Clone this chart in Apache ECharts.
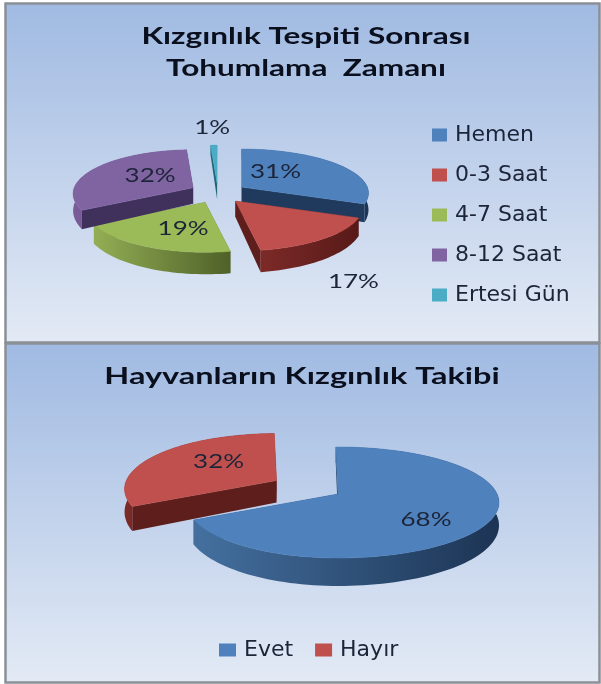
<!DOCTYPE html>
<html>
<head>
<meta charset="utf-8">
<style>html,body{margin:0;padding:0;background:#fff}#c{width:601px;height:684px}</style>
<script src="https://cdn.jsdelivr.net/npm/echarts@6/dist/echarts.min.js"></script>
</head>
<body>
<div id="c"></div>
<script>
// ---- data ----
var zamanTitle = 'Kızgınlık Tespiti Sonrası\nTohumlama  Zamanı';
var zamanCategories = ['Hemen', '0-3 Saat', '4-7 Saat', '8-12 Saat', 'Ertesi Gün'];
var zamanValues = [31, 17, 19, 32, 1];
var takipTitle = 'Hayvanların Kızgınlık Takibi';
var takipCategories = ['Evet', 'Hayır'];
var takipValues = [68, 32];

// ---- style ----
var TEXT = '#1c2438';
var palette = {
  blue:   {top:'#4f81bd', wall:'#1f3a5c', rimA:'#44709f', rimB:'#1c3454'},
  red:    {top:'#c0504d', wall:'#5e1f1c', rimA:'#7c2a27', rimB:'#571a18'},
  green:  {top:'#9bbb59', wall:'#55692c', rimA:'#93ae55', rimB:'#4f6128'},
  purple: {top:'#8064a2', wall:'#40305c', rimA:'#7a5c9a', rimB:'#5a4278'},
  cyan:   {top:'#4bacc6', wall:'#1f6575', rimA:'#2f7f92', rimB:'#1f6575'}
};
var zamanLayout = {
  cx:218, cy:192, rxL:120, rxR:127, ryBack:38, ryFront:50, depth:16, depthK:6, ex:.23, ey:.23, start:0, skew:3,
  colors:[palette.blue, palette.red, palette.green, palette.purple, palette.cyan],
  explode:[1,1,1,1,1],
  order:[13,15,11,14,16],
  labelOffset:[[34,-16],[118,80],[-22,26],[-43,-12],[-5,-56]]
};
var takipLayout = {
  cx:338, cy:494, rxL:152, rxR:161, ryBack:47, ryFront:64, depth:22, depthK:6, ex:.46, ey:.55, start:-1, skew:0,
  colors:[palette.blue, palette.red],
  explode:[0,1],
  order:[12,11],
  labelOffset:[[88,26],[-58,-19]]
};

function slicePainter(values, layout, index) {
  var sum = values.reduce(function(a,b){return a+b;},0);
  var before = values.slice(0,index).reduce(function(a,b){return a+b;},0);
  var D = Math.PI/180;
  return function(params, api) {
    var v = api.value(0);
    var a0 = layout.start*D + before/sum*2*Math.PI;
    var a1 = a0 + v/sum*2*Math.PI;
    var mid = (a0+a1)/2, L = layout, c = L.colors[index], k = L.explode[index];
    var R = (L.ryFront+L.ryBack)/2, off = (L.ryFront-L.ryBack)/2, e = off/R;
    var rxAvg = (L.rxL+L.rxR)/2;
    var ax = L.cx + k*L.ex*rxAvg*Math.sin(mid);
    var ay = L.cy - k*L.ey*(Math.cos(mid)>0?L.ryBack:L.ryFront)*Math.cos(mid);
    // ray from the apex to the rim of a tilted disc
    function rim(t0){
      var f = Math.max(0,-Math.cos(t0));
      var t = t0 - L.skew*D*f*f*f*f;
      var s = Math.sin(t), co = Math.cos(t);
      var b = e*co, lam = -b + Math.sqrt(b*b + 1 - e*e);
      return [ax + (s>0?L.rxR:L.rxL)*lam*s, ay + off + R*(-e + lam*(-co))];
    }
    function dep(t){ return L.depth - L.depthK*Math.cos(t); }
    var steps = Math.max(4, Math.ceil((a1-a0)/D/2));
    var arcTop = [], arcLow = [];
    for (var i=0;i<=steps;i++){
      var t = a0+(a1-a0)*i/steps, p = rim(t);
      arcTop.push(p);
      arcLow.push([p[0], p[1]+dep(t)]);
    }
    var wallPoly = function(t){
      var p = rim(t);
      return [[ax,ay],p,[p[0],p[1]+dep(t)],[ax,ay+L.depth]];
    };
    var children = [
      {type:'polygon', shape:{points:wallPoly(a0)}, style:{fill:c.wall}},
      {type:'polygon', shape:{points:wallPoly(a1)}, style:{fill:c.wall}},
      {type:'polygon', shape:{points:arcTop.concat(arcLow.slice().reverse())},
       style:{fill:{type:'linear',x:0,y:0,x2:1,y2:0,colorStops:[{offset:0,color:c.rimA},{offset:1,color:c.rimB}]}}},
      {type:'polygon', shape:{points:[[ax,ay]].concat(arcTop)}, style:{fill:c.top, stroke:c.top, lineWidth:.5}},
      {type:'text', z2:50, x:ax+L.labelOffset[index][0], y:ay+L.labelOffset[index][1], scaleX:1.3,
       style:{text:v+'%', x:0, y:0, fill:TEXT, font:'20px Lato, sans-serif', align:'center', verticalAlign:'middle'}}
    ];
    return {type:'group', children:children};
  };
}
function buildSeries(categories, values, layout) {
  return categories.map(function(name,i){
    return {type:'custom', name:name, coordinateSystem:'none', silent:true, z:layout.order[i],
      itemStyle:{color:layout.colors[i].top}, data:[[values[i]]],
      renderItem:slicePainter(values,layout,i)};
  });
}
function panel(top,h){
  return {type:'rect', z:-10, shape:{x:5.5,y:top,width:594,height:h},
    style:{stroke:'#8b9097', lineWidth:2.5,
      fill:{type:'linear',x:0,y:0,x2:0,y2:1,colorStops:[{offset:0,color:'#a0bae2'},{offset:1,color:'#e3eaf5'}]}}};
}
function titleEl(text,x,y,sx){
  return {type:'text', z:5, x:x, y:y, scaleX:sx,
    style:{text:text, x:0, y:0, align:'center', verticalAlign:'middle', lineHeight:32, fill:'#0a0f1e',
      font:'bold 23px Lato, sans-serif'}};
}
var legendText = {fontFamily:'"DejaVu Sans", sans-serif', fontSize:22, color:TEXT, padding:[0,0,0,3]};
var option = {
  animation:false,
  backgroundColor:'#ffffff',
  graphic:[panel(3.5,339), panel(343.5,339),
    titleEl(zamanTitle,306,53,1.37), titleEl(takipTitle,302,377,1.41)],
  legend:[
    {data:zamanCategories, orient:'vertical', left:427, top:119, itemWidth:15, itemHeight:13, itemGap:18,
     icon:'rect', selectedMode:false, textStyle:legendText},
    {data:takipCategories, orient:'horizontal', left:214, top:634, itemWidth:17, itemHeight:13, itemGap:22,
     icon:'rect', selectedMode:false, textStyle:legendText}
  ],
  series:buildSeries(zamanCategories,zamanValues,zamanLayout)
    .concat(buildSeries(takipCategories,takipValues,takipLayout))
};
echarts.init(document.getElementById('c'),null,{renderer:'canvas'}).setOption(option);
</script>
</body>
</html>
